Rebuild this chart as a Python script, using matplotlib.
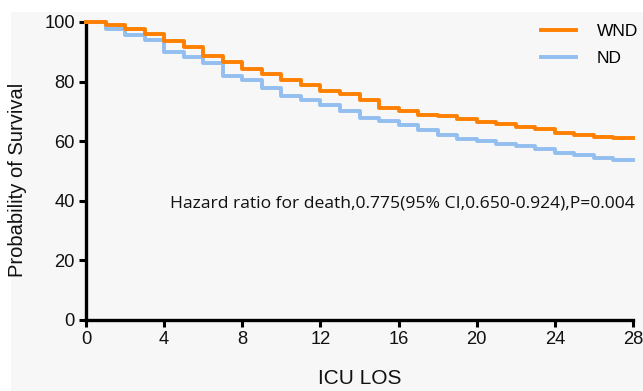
import matplotlib
matplotlib.use("Agg")
import matplotlib.pyplot as plt

days = list(range(0, 29))
wnd = [100, 98.9, 97.6, 96.0, 93.6, 91.6, 88.7, 86.7, 84.3, 82.5, 80.6, 79.0,
       76.8, 75.9, 73.7, 71.3, 70.0, 68.9, 68.3, 67.6, 66.4, 65.7, 64.7, 64.0,
       62.7, 62.1, 61.5, 61.2]
nd = [100, 97.6, 95.8, 93.8, 90.1, 88.3, 86.1, 82.0, 80.4, 77.7, 75.3, 73.9,
      72.3, 70.0, 67.9, 66.8, 65.3, 63.7, 62.0, 60.9, 60.0, 59.2, 58.4, 57.5,
      56.0, 55.3, 54.5, 53.6]
series_names = ["WND", "ND"]
xticks = [0, 4, 8, 12, 16, 20, 24, 28]
yticks = [0, 20, 40, 60, 80, 100]
annotation = "Hazard ratio for death,0.775(95% CI,0.650-0.924),P=0.004"

W, H = 643, 391
fig = plt.figure(figsize=(W / 100, H / 100), dpi=100)
fig.patch.set_facecolor("white")

bg = fig.add_axes([11 / W, 0, 1 - 11 / W, 1 - 12 / H], zorder=-5)
bg.set_facecolor("#f7f7f7")
bg.set_xticks([])
bg.set_yticks([])
for s in bg.spines.values():
    s.set_visible(False)

ax = fig.add_axes([86 / W, (H - 320) / H, (633 - 86) / W, (320 - 22) / H], zorder=1)
ax.set_facecolor("none")

orange = "#FF8000"
blue = "#93BEF0"
ax.step(days, nd + [nd[-1]], where="post", color=blue, lw=2.8,
        label=series_names[1], clip_on=False, zorder=3)
ax.step(days, wnd + [wnd[-1]], where="post", color=orange, lw=2.8,
        label=series_names[0], clip_on=False, zorder=4)

ax.set_xlim(0, 28)
ax.set_ylim(0, 100)
ax.set_xticks(xticks)
ax.set_yticks(yticks)
for s in ["top", "right"]:
    ax.spines[s].set_visible(False)
for s in ["left", "bottom"]:
    ax.spines[s].set_linewidth(2.4)
    ax.spines[s].set_color("black")
ax.tick_params(direction="out", length=5, width=2.2, labelsize=13.2, pad=3,
               color="black")
for lab in ax.get_xticklabels() + ax.get_yticklabels():
    lab.set_family("Liberation Sans")
    lab.set_color("#111111")

ax.set_ylabel("Probability of Survival", fontsize=14.5, family="Liberation Sans",
              color="#111111")
ax.yaxis.set_label_coords(-0.108, 0.47)
ax.set_xlabel("ICU LOS", fontsize=15, family="Liberation Sans", labelpad=15,
              color="#111111")

ax.text(1.004, 0.39, annotation, transform=ax.transAxes, ha="right", va="center",
        fontsize=12.6, family="Open Sans", color="#111111")

h, l = ax.get_legend_handles_labels()
leg = ax.legend(h[::-1], l[::-1], loc="upper right", bbox_to_anchor=(1.038, 1.047),
                frameon=False, handlelength=2.0, handletextpad=1.2,
                labelspacing=0.72, prop={"family": "Liberation Sans", "size": 12.5})

fig.savefig("out.png", dpi=100, facecolor="white")
